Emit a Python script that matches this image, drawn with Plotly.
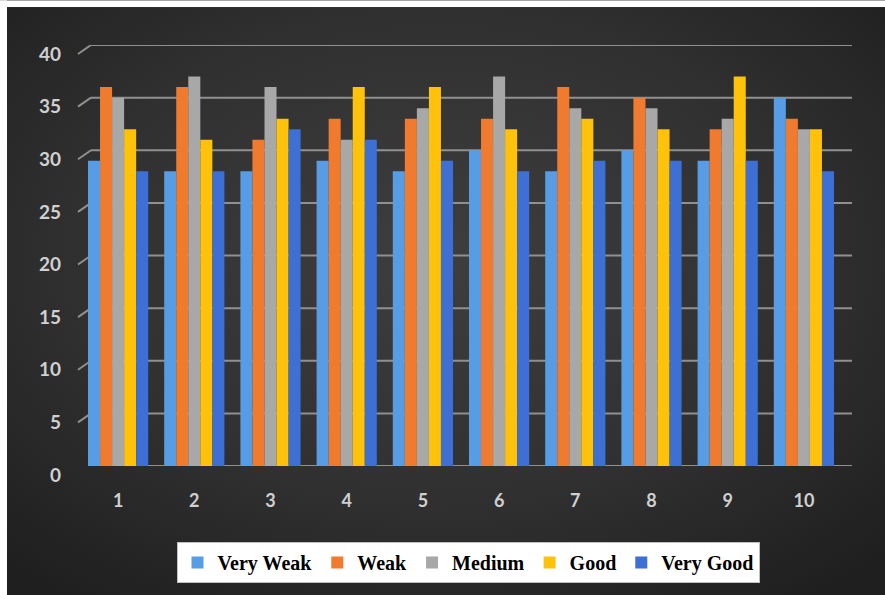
import base64
import plotly.graph_objects as go

categories = ["1", "2", "3", "4", "5", "6", "7", "8", "9", "10"]
very_weak = [29, 28, 28, 29, 28, 30, 28, 30, 29, 35]
weak = [36, 36, 31, 33, 33, 33, 36, 35, 32, 33]
medium = [35, 37, 36, 31, 34, 37, 34, 34, 33, 32]
good = [32, 31, 33, 36, 36, 32, 33, 32, 37, 32]
very_good = [28, 28, 32, 31, 29, 28, 29, 29, 29, 28]
series_names = ["Very Weak", "Weak", "Medium", "Good", "Very Good"]
series_values = [very_weak, weak, medium, good, very_good]
colors = ["#579de6", "#f07b2e", "#a8a8a8", "#ffc20a", "#3d6fd4"]
y_ticks = [0, 5, 10, 15, 20, 25, 30, 35, 40]

W, H = 885, 595
ML, MR, MT, MB = 80, 43, 45, 127
PW, PH = W - ML - MR, H - MT - MB

IW, IH = 900, 600
svg = f'''<svg xmlns="http://www.w3.org/2000/svg" width="{IW}" height="{IH}" viewBox="0 0 {IW} {IH}" preserveAspectRatio="none">
<defs><radialGradient id="g" cx="48%" cy="42%" r="70%">
<stop offset="0%" stop-color="#3e3e3e"/>
<stop offset="55%" stop-color="#313131"/>
<stop offset="100%" stop-color="#1f1f1f"/>
</radialGradient></defs>
<rect x="0" y="0" width="7" height="{IH}" fill="#ffffff"/>
<rect x="0" y="0" width="{IW}" height="7" fill="#ffffff"/>
<rect x="7" y="7" width="{IW}" height="{IH}" fill="url(#g)"/>
</svg>'''
src = "data:image/svg+xml;base64," + base64.b64encode(svg.encode()).decode()

fig = go.Figure()
for name, vals, col in zip(series_names, series_values, colors):
    fig.add_trace(go.Bar(x=categories, y=vals, name=name, marker=dict(color=col, line=dict(width=0))))

shapes = []
for v in y_ticks:
    shapes.append(dict(type="line", xref="paper", yref="y", xsizemode="pixel", ysizemode="pixel",
                       xanchor=0, yanchor=v, x0=-2, x1=11, y0=-9, y1=0,
                       line=dict(color="#909090", width=2), layer="below"))
    shapes.append(dict(type="line", xref="paper", yref="y", xsizemode="pixel",
                       xanchor=0, x0=11, x1=PW + 10, y0=v, y1=v,
                       line=dict(color="#909090", width=2), layer="below"))

fig.update_layout(
    width=W, height=H,
    margin=dict(l=ML, r=MR, t=MT, b=MB),
    paper_bgcolor="#222222",
    plot_bgcolor="rgba(0,0,0,0)",
    barmode="group", bargap=0.21, bargroupgap=0,
    images=[dict(source=src, xref="paper", yref="paper",
                 x=(0 - ML) / PW, y=(H - MB) / PH,
                 sizex=IW / PW, sizey=IH / PH,
                 xanchor="left", yanchor="top", sizing="stretch", layer="below")],
    shapes=shapes,
    xaxis=dict(showgrid=False, zeroline=False, showline=False, ticks="",
               tickfont=dict(family="Lato", size=18, color="#d0d0d0", weight="bold"),
               ticklabelstandoff=22),
    yaxis=dict(range=[0, 40], tickvals=y_ticks, showgrid=False, zeroline=False, showline=False,
               ticks="", tickfont=dict(family="Lato", size=19, color="#d0d0d0", weight="bold"),
               ticklabelstandoff=18, ticklabelshift=9),
    legend=dict(orientation="h", x=(468 - ML) / PW, y=(H - MB - 565) / PH,
                xanchor="center", yanchor="middle",
                bgcolor="white", bordercolor="#bfbfbf", borderwidth=1,
                font=dict(family="Liberation Serif", size=20, color="black", weight="bold"),
                itemwidth=30, tracegroupgap=0),
    showlegend=True,
)

fig.write_html("out.html")
